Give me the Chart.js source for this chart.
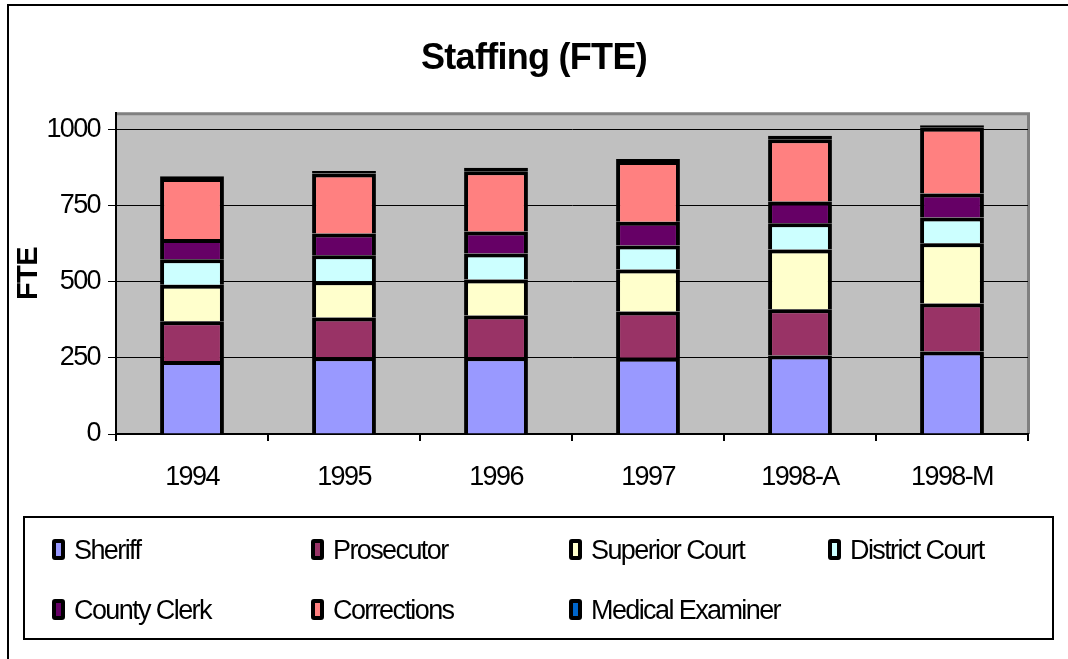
<!DOCTYPE html>
<html>
<head>
<meta charset="utf-8">
<script src="https://cdn.jsdelivr.net/npm/chart.js@4.4.1/dist/chart.umd.min.js"></script>
<style>
  body { margin: 0; background: #fff; font-family: 'Liberation Sans', Arial, sans-serif; }
  #wrap { position: relative; width: 1068px; height: 659px; overflow: hidden; }
  #frame { position: absolute; left: 7px; top: 4px; width: 1100px; height: 700px; border-top: 2px solid #000; border-left: 2px solid #000; }
  #chart { position: absolute; left: 0; top: 0; }
  #legend { position: absolute; left: 23px; top: 516px; width: 1031px; height: 124px; box-sizing: border-box; border: 2px solid #000; }
  .item { position: absolute; height: 30px; line-height: 30px; font-size: 27px; letter-spacing: -1.6px; white-space: nowrap; color: #000; }
  .box { position: absolute; left: 0; top: 4px; width: 13px; height: 21px; box-sizing: border-box; border: 4px solid #000; border-radius: 3px; }
  .item span.t { position: absolute; left: 22px; top: 0; }
</style>
</head>
<body>
<div id="wrap">
  <div id="frame"></div>
  <canvas id="chart" width="1068" height="659"></canvas>
  <div id="legend"></div>
</div>
<script>
const categories = ['1994', '1995', '1996', '1997', '1998-A', '1998-M'];
const seriesNames = ['Sheriff', 'Prosecutor', 'Superior Court', 'District Court', 'County Clerk', 'Corrections', 'Medical Examiner'];
const sheriff = [240, 252, 252, 251, 258, 271];
const prosecutor = [131, 131, 138, 152, 152, 158];
const superiorCourt = [120, 119, 118, 138, 197, 198];
const districtCourt = [84, 86, 86, 79, 86, 85];
const countyClerk = [66, 71, 72, 78, 72, 79];
const corrections = [201, 198, 198, 200, 204, 216];
const medicalExaminer = [6, 8, 12, 6, 12, 8];
const yTicks = [0, 250, 500, 750, 1000];

const colors = ['#9999FF', '#993366', '#FFFFCC', '#CCFFFF', '#660066', '#FF8080', '#0066CC'];
const values = [sheriff, prosecutor, superiorCourt, districtCourt, countyClerk, corrections, medicalExaminer];

const canvas = document.getElementById('chart');
const ctx = canvas.getContext('2d');

// squeeze the text a bit, the original font looks narrow
function squeeze(c) {
  const m = /(\d+(\.\d+)?)px/.exec(c.font);
  if (!m) return;
  const size = parseFloat(m[1]);
  const bold = /bold/.test(c.font);
  const k = bold ? 0.02 : 0.06;
  c.letterSpacing = (-k * size).toFixed(2) + 'px';
}
const fill = ctx.fillText;
ctx.fillText = function (t, x, y, w) { squeeze(this); return w === undefined ? fill.call(this, t, x, y) : fill.call(this, t, x, y, w); };
const measure = ctx.measureText;
ctx.measureText = function (t) { squeeze(this); return measure.call(this, t); };

const plotBg = {
  id: 'plotBg',
  beforeDraw(chart) {
    const a = chart.chartArea;
    const c = chart.ctx;
    c.save();
    c.fillStyle = '#C0C0C0';
    c.fillRect(a.left, a.top, a.right - a.left, a.bottom - a.top);
    c.strokeStyle = '#808080';
    c.lineWidth = 3;
    c.beginPath();
    c.moveTo(a.left, a.top + 0.5);
    c.lineTo(a.right + 0.5, a.top + 0.5);
    c.lineTo(a.right + 0.5, a.bottom);
    c.stroke();
    c.restore();
  }
};

const datasets = seriesNames.map((name, i) => ({
  label: name,
  data: values[i],
  backgroundColor: colors[i],
  borderColor: '#000',
  borderWidth: 4,
  borderSkipped: i === 6 ? false : 'start',
  barPercentage: 0.42,
  categoryPercentage: 1
}));

const chart = new Chart(ctx, {
  type: 'bar',
  data: { labels: categories, datasets: datasets },
  options: {
    responsive: false,
    animation: false,
    layout: { padding: { left: 40, right: 40, top: 0, bottom: 155 } },
    plugins: {
      legend: { display: false },
      tooltip: { enabled: false },
      title: {
        display: true,
        text: 'Staffing (FTE)',
        color: '#000',
        font: { family: "'Liberation Sans', Arial", size: 36, weight: 'bold' },
        padding: { top: 37, bottom: 33 }
      }
    },
    scales: {
      x: {
        stacked: true,
        grid: { offset: true, drawOnChartArea: false, tickLength: 7, color: '#000', lineWidth: 2 },
        border: { color: '#000', width: 2 },
        ticks: { color: '#000', padding: 20, font: { family: "'Liberation Sans', Arial", size: 27 } },
        afterFit(s) { s.height = 70; }
      },
      y: {
        stacked: true,
        min: 0,
        max: 1055,
        afterBuildTicks(s) { s.ticks = yTicks.map(v => ({ value: v })); },
        grid: { color: '#000', lineWidth: 1, tickLength: 8 },
        border: { color: '#000', width: 2 },
        ticks: {
          color: '#000',
          padding: 8,
          font: { family: "'Liberation Sans', Arial", size: 27 },
          callback: v => String(v)
        },
        title: {
          display: true,
          text: 'FTE',
          color: '#000',
          font: { family: "'Liberation Sans', Arial", size: 29, weight: 'bold' },
          padding: { top: -28, bottom: 0 }
        },
        afterFit(s) { s.width = 76; }
      }
    }
  },
  plugins: [plotBg]
});

// legend in the bordered box, 4 columns like the original
const legend = document.getElementById('legend');
const colX = [27, 286, 544, 803];
const rowY = [17, 77];
chart.data.datasets.forEach((ds, i) => {
  const item = document.createElement('div');
  item.className = 'item';
  item.style.left = colX[i % 4] + 'px';
  item.style.top = rowY[Math.floor(i / 4)] + 'px';
  item.innerHTML = '<span class="box" style="background:' + ds.backgroundColor + '"></span><span class="t">' + ds.label + '</span>';
  legend.appendChild(item);
});
</script>
</body>
</html>
